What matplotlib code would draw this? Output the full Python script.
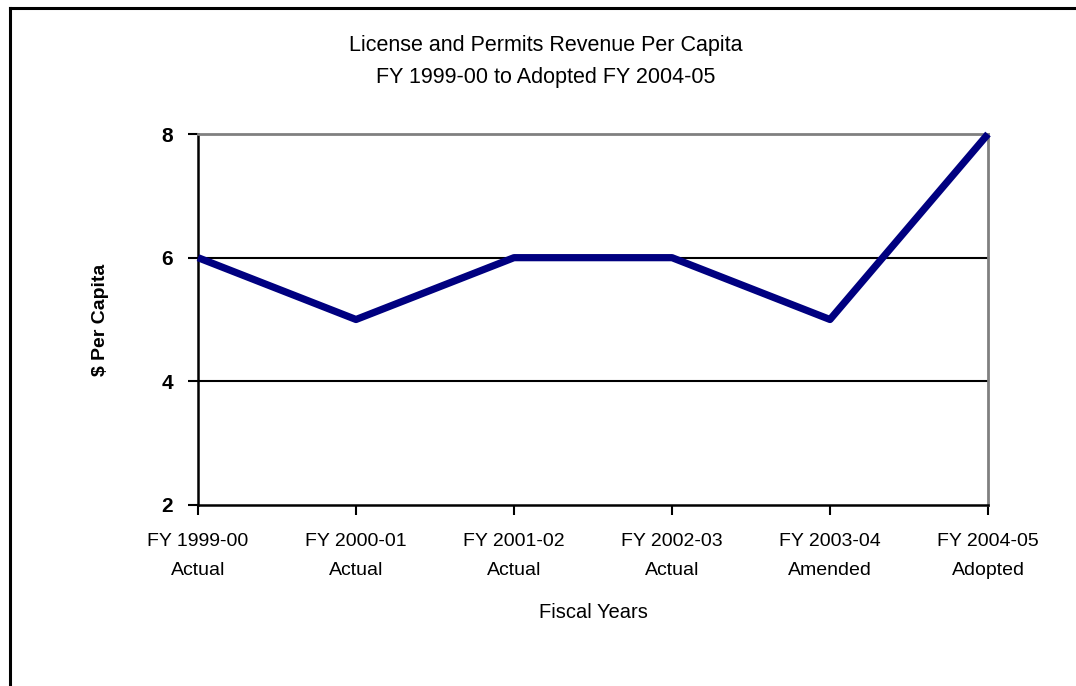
import matplotlib
matplotlib.use("Agg")
from matplotlib import pyplot as plt
from matplotlib.lines import Line2D

plt.rcParams['font.family'] = ['Liberation Sans Narrow', 'Liberation Sans', 'DejaVu Sans']

# data
years = ['FY 1999-00\nActual', 'FY 2000-01\nActual', 'FY 2001-02\nActual',
         'FY 2002-03\nActual', 'FY 2003-04\nAmended', 'FY 2004-05\nAdopted']
per_capita = [6, 5, 6, 6, 5, 8]
y_ticks = [2, 4, 6, 8]

fig = plt.figure(figsize=(10.76, 6.86), dpi=100)
ax = fig.add_axes([198/1076, 1 - 505/686, (988-198)/1076, (505-134)/686])

x = list(range(len(years)))
ax.plot(x, per_capita, color='#000080', lw=5.2, solid_capstyle='butt', zorder=3, clip_on=False)

ax.set_xlim(0, len(years) - 1)
ax.set_ylim(2, 8)
ax.set_xticks(x)
ax.set_xticklabels(years, fontsize=14, linespacing=1.95)
ax.set_yticks(y_ticks)
ax.set_yticklabels([str(v) for v in y_ticks], fontsize=15, fontweight='bold')
ax.tick_params(direction='out', length=7, width=1.5, color='black')
ax.tick_params(axis='y', pad=11)
ax.tick_params(axis='x', pad=13)

# horizontal grid lines in black
for v in y_ticks[1:-1]:
    ax.axhline(v, color='black', lw=1.5, zorder=1)

ax.spines['left'].set_color('black')
ax.spines['left'].set_linewidth(1.8)
ax.spines['bottom'].set_color('black')
ax.spines['bottom'].set_linewidth(1.8)
ax.spines['top'].set_color('#808080')
ax.spines['top'].set_linewidth(2)
ax.spines['right'].set_color('#808080')
ax.spines['right'].set_linewidth(2)

ax.set_xlabel('Fiscal Years', fontsize=14.5, labelpad=17)
ax.set_ylabel('$ Per Capita', fontsize=14, fontweight='bold', labelpad=38)

fig.text(546/1076, 1 - 46/686, 'License and Permits Revenue Per Capita', ha='center', va='center', fontsize=15.5)
fig.text(546/1076, 1 - 78/686, 'FY 1999-00 to Adopted FY 2004-05', ha='center', va='center', fontsize=15.5)

# outer chart border (top and left edges visible)
fig.add_artist(Line2D([9.5/1076, 1], [1 - 7.5/686, 1 - 7.5/686], transform=fig.transFigure, color='black', lw=2.2))
fig.add_artist(Line2D([9.5/1076, 9.5/1076], [0, 1 - 7.5/686], transform=fig.transFigure, color='black', lw=2.2))

fig.savefig('out.png', dpi=100)
